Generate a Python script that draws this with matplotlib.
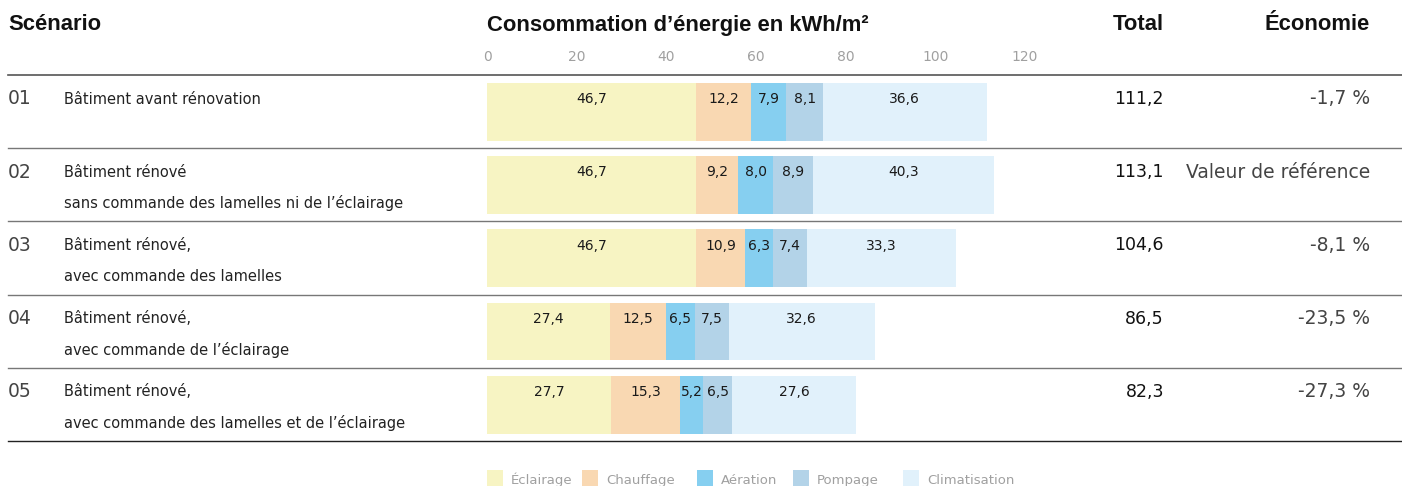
import numpy as np
import matplotlib
matplotlib.use("Agg")
import matplotlib.pyplot as plt
from matplotlib.patches import Rectangle

plt.rcParams['font.family'] = ['DejaVu Sans']
HEAD = ['Liberation Sans', 'DejaVu Sans']

# data
scenarios = ["01", "02", "03", "04", "05"]
descriptions = [
    ["Bâtiment avant rénovation"],
    ["Bâtiment rénové", "sans commande des lamelles ni de l’éclairage"],
    ["Bâtiment rénové,", "avec commande des lamelles"],
    ["Bâtiment rénové,", "avec commande de l’éclairage"],
    ["Bâtiment rénové,", "avec commande des lamelles et de l’éclairage"],
]
categories = ["Éclairage", "Chauffage", "Aération", "Pompage", "Climatisation"]
eclairage = [46.7, 46.7, 46.7, 27.4, 27.7]
chauffage = [12.2, 9.2, 10.9, 12.5, 15.3]
aeration = [7.9, 8.0, 6.3, 6.5, 5.2]
pompage = [8.1, 8.9, 7.4, 7.5, 6.5]
climatisation = [36.6, 40.3, 33.3, 32.6, 27.6]
totals = [111.2, 113.1, 104.6, 86.5, 82.3]
economie = ["-1,7 %", "Valeur de référence", "-8,1 %", "-23,5 %", "-27,3 %"]
xticks = [0, 20, 40, 60, 80, 100, 120]

colors = ["#F7F4C3", "#F9D8B2", "#86CFF0", "#B3D3E8", "#E1F1FB"]
series = [eclairage, chauffage, aeration, pompage, climatisation]

W, H = 1402, 486
fig = plt.figure(figsize=(W / 100, H / 100), dpi=100)

def fx(px):
    return px / W

def fy(py):
    return 1 - py / H

# bar area: x 0..120 -> 487..1025 px, rows between y=75 and y=441 px
ax = fig.add_axes([fx(487), fy(441), (1025 - 487) / W, (441 - 75) / H])
ax.set_xlim(0, 120)
ax.set_ylim(5, 0)

fmt = lambda v: f"{v:.1f}".replace(".", ",")

ypos = np.arange(len(scenarios)) + 0.505
left = np.zeros(len(scenarios))
for vals, c in zip(series, colors):
    vals = np.array(vals)
    ax.barh(ypos, vals, left=left, height=0.79, color=c, linewidth=0)
    for i, v in enumerate(vals):
        ax.text(left[i] + v / 2, i + 0.33, fmt(v), ha="center", va="center",
                fontsize=10, color="#1a1a1a")
    left += vals

ax.xaxis.tick_top()
ax.set_xticks(xticks)
ax.set_xticklabels([str(t) for t in xticks], fontsize=10, color="#a0a0a0")
ax.tick_params(axis="x", length=0, pad=8)
ax.set_yticks([])
for s in ax.spines.values():
    s.set_visible(False)

# row separators
x0 = (8 - 487) / 538
x1 = (1402 - 487) / 538
for i in range(len(scenarios) + 1):
    if i == 0:
        col, lw = "#555555", 1.2
    elif i == len(scenarios):
        col, lw = "#222222", 1.0
    else:
        col, lw = "#777777", 1.0
    ax.axhline(i, xmin=x0, xmax=x1, color=col, lw=lw, clip_on=False)

# headers
hkw = dict(fontsize=15.8, fontweight="bold", va="center", family=HEAD, color="#111111")
fig.text(fx(8), fy(25), "Scénario", **hkw)
fig.text(fx(487), fy(25), "Consommation d’énergie en kWh/m²", **hkw)
fig.text(fx(1164), fy(25), "Total", ha="right", **hkw)
fig.text(fx(1370), fy(25), "Économie", ha="right", **hkw)

# row texts
for i in range(len(scenarios)):
    yc = 99 + i * 73.2
    fig.text(fx(8), fy(yc), scenarios[i], fontsize=13.5, va="center", color="#444444")
    for j, line in enumerate(descriptions[i]):
        fig.text(fx(64), fy(yc + j * 31), line, fontsize=10.5, va="center", color="#222222")
    fig.text(fx(1164), fy(yc), fmt(totals[i]), fontsize=12.5, va="center", ha="right",
             color="#111111")
    fig.text(fx(1370), fy(yc), economie[i], fontsize=13.5, va="center", ha="right",
             color="#444444")

# legend
sq_x = [487, 582, 697, 793, 903]
for cat, c, sx in zip(categories, colors, sq_x):
    fig.add_artist(Rectangle((fx(sx), fy(486)), 16 / W, 16 / H, transform=fig.transFigure,
                             facecolor=c, edgecolor="none"))
    fig.text(fx(sx + 24), fy(480), cat, fontsize=9.5, va="center", color="#a0a0a0")

fig.savefig("out.png", dpi=100)
